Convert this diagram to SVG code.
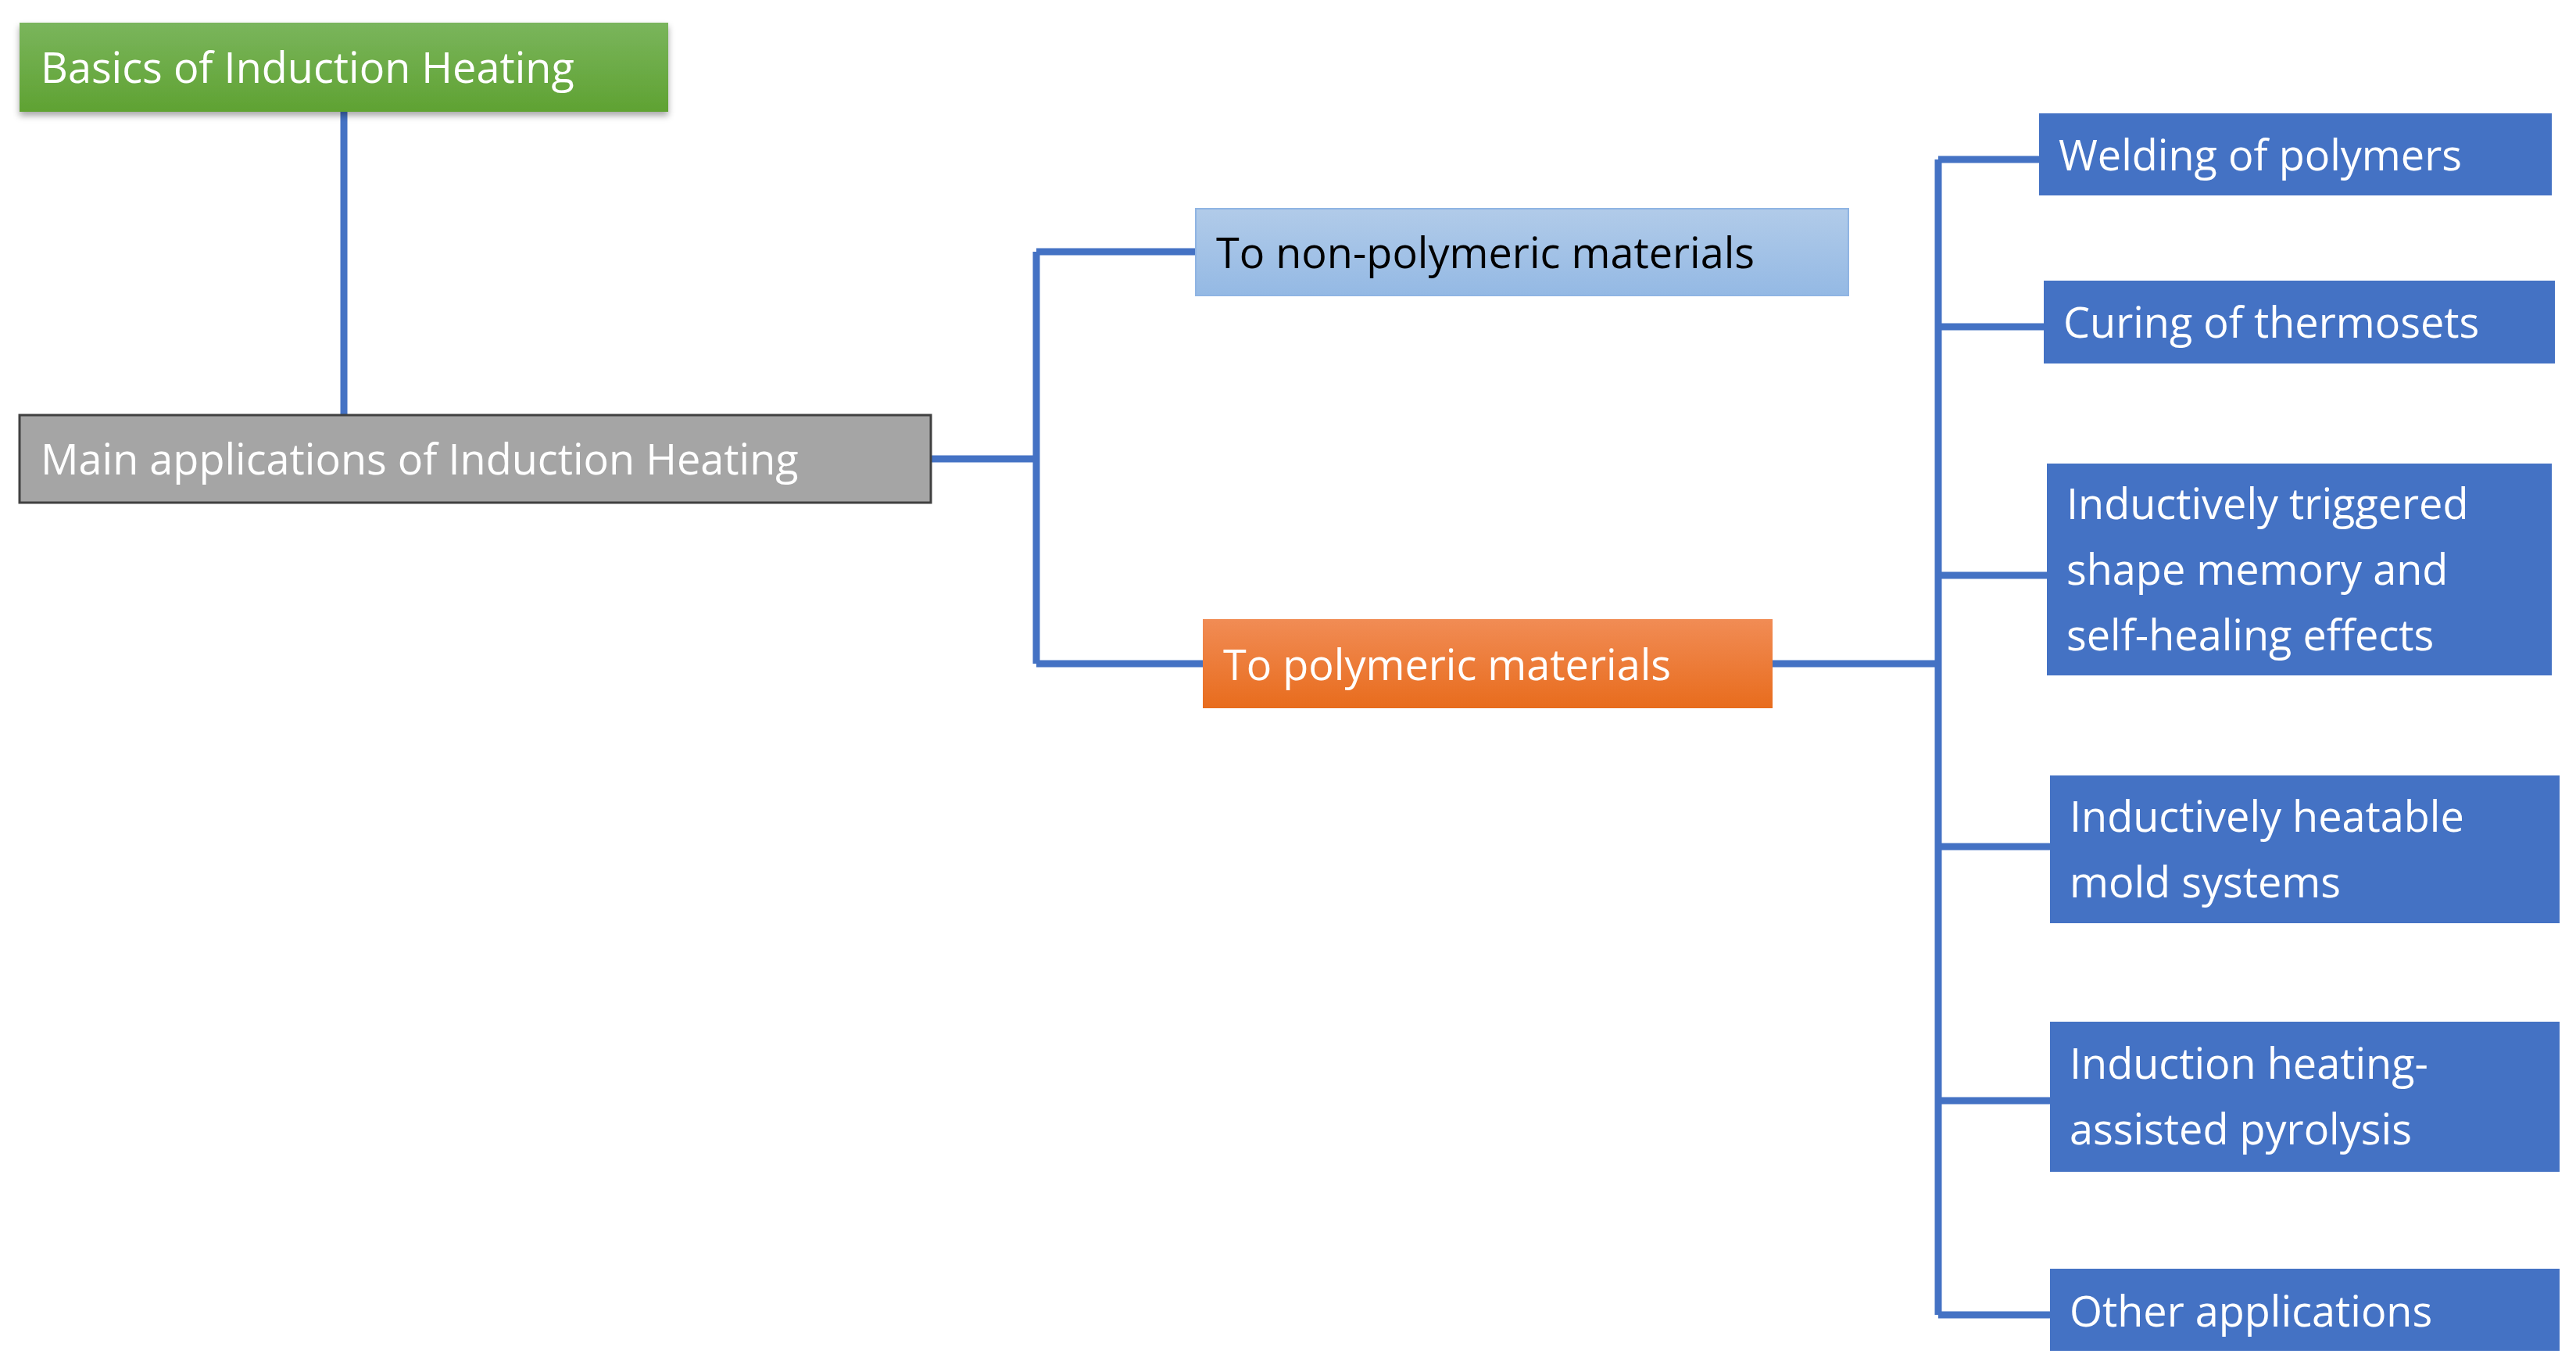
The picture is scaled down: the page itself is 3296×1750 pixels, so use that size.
<svg xmlns="http://www.w3.org/2000/svg" width="3296" height="1750" viewBox="0 0 3296 1750">
<style>
text{font-family:"Open Sans","Noto Sans",sans-serif;font-size:54px;fill:#fff}
.blue{fill:#4472c4}
.c{fill:none;stroke:#4472c4;stroke-width:9}
</style>
<defs>
<linearGradient id="gG" x1="0" y1="0" x2="0" y2="1"><stop offset="0" stop-color="#7ab55c"/><stop offset="1" stop-color="#5fa232"/></linearGradient>
<linearGradient id="gB" x1="0" y1="0" x2="0" y2="1"><stop offset="0" stop-color="#b1cbe9"/><stop offset="1" stop-color="#94b9e4"/></linearGradient>
<linearGradient id="gO" x1="0" y1="0" x2="0" y2="1"><stop offset="0" stop-color="#f18c55"/><stop offset="1" stop-color="#e86c1d"/></linearGradient>
<filter id="sh" x="-5%" y="-10%" width="110%" height="130%"><feDropShadow dx="0" dy="5" stdDeviation="4" flood-color="#000" flood-opacity="0.35"/></filter>
</defs>
<rect width="3296" height="1750" fill="#fff"/>
<g id="connectors">
<path class="c" d="M440 143V531"/>
<path class="c" d="M1191 587H1326M1326 322V849M1326 322H1530M1326 849H1539"/>
<path class="c" d="M2268 849H2480M2480 204V1682M2480 204H2609M2480 418H2615M2480 736H2619M2480 1083H2623M2480 1408H2623M2480 1682H2623"/>
</g>
<g id="basics"><rect x="25" y="29" width="830" height="114" fill="url(#gG)" filter="url(#sh)"/><text x="52" y="106">Basics of Induction Heating</text></g>
<g id="main"><rect x="25" y="531" width="1166" height="112" fill="#a5a5a5" stroke="#404040" stroke-width="3"/><text x="52" y="607">Main applications of Induction Heating</text></g>
<g id="nonpoly"><rect x="1530" y="267" width="835" height="111" fill="url(#gB)" stroke="#8fb4e3" stroke-width="2"/><text x="1556" y="343" style="fill:#000">To non-polymeric materials</text></g>
<g id="poly"><rect x="1539" y="792" width="729" height="114" fill="url(#gO)"/><text x="1565" y="870">To polymeric materials</text></g>
<g id="welding"><rect class="blue" x="2609" y="145" width="656" height="105"/><text x="2634" y="218">Welding of polymers</text></g>
<g id="curing"><rect class="blue" x="2615" y="359" width="654" height="106"/><text x="2640" y="432">Curing of thermosets</text></g>
<g id="shape"><rect class="blue" x="2619" y="593" width="646" height="271"/><text x="2644" y="664">Inductively triggered</text><text x="2644" y="748">shape memory and</text><text x="2644" y="832">self-healing effects</text></g>
<g id="mold"><rect class="blue" x="2623" y="992" width="652" height="189"/><text x="2648" y="1064">Inductively heatable</text><text x="2648" y="1148">mold systems</text></g>
<g id="pyro"><rect class="blue" x="2623" y="1307" width="652" height="192"/><text x="2648" y="1380">Induction heating-</text><text x="2648" y="1464">assisted pyrolysis</text></g>
<g id="other"><rect class="blue" x="2623" y="1623" width="652" height="105"/><text x="2648" y="1697">Other applications</text></g>
</svg>
